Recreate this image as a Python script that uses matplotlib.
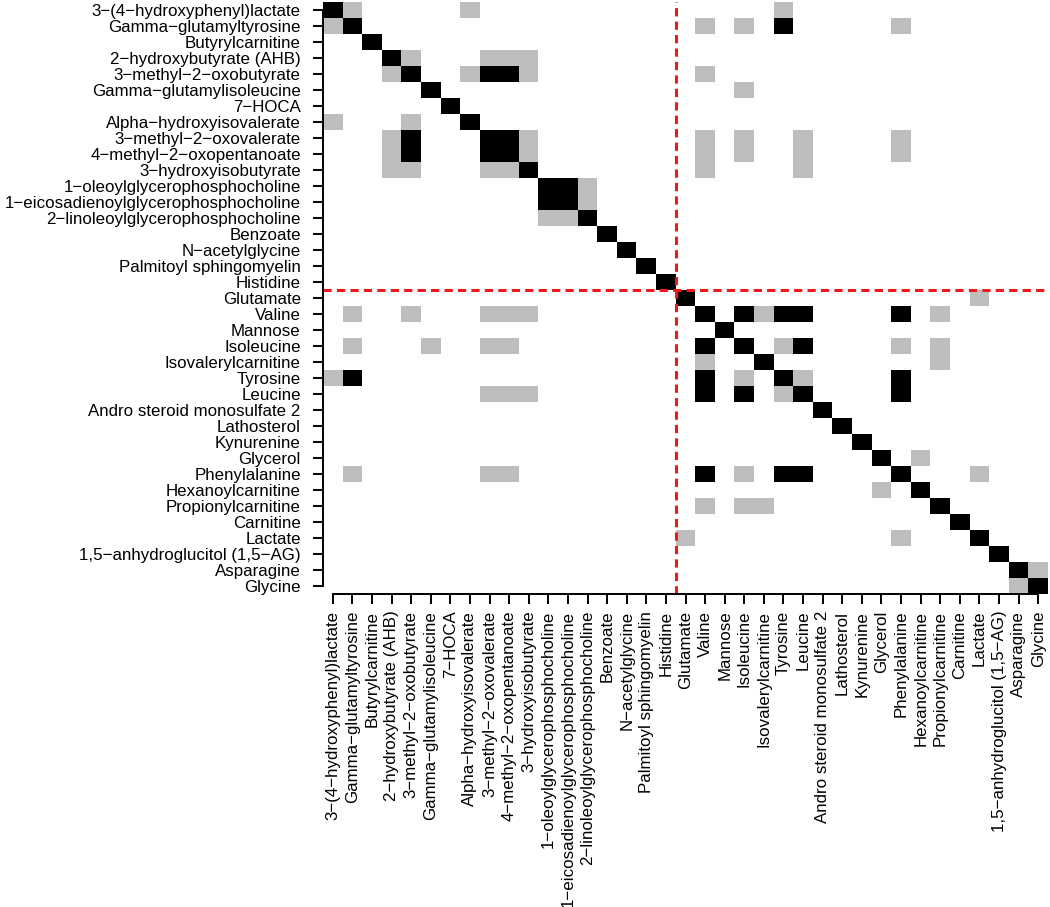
import numpy as np
import matplotlib
matplotlib.use("Agg")
import matplotlib.pyplot as plt
from matplotlib.colors import ListedColormap

plt.rcParams["font.family"] = ["Liberation Sans", "DejaVu Sans"]

# row/column order of the matrix (same on both axes)
metabolites = [
    "3-(4-hydroxyphenyl)lactate",
    "Gamma-glutamyltyrosine",
    "Butyrylcarnitine",
    "2-hydroxybutyrate (AHB)",
    "3-methyl-2-oxobutyrate",
    "Gamma-glutamylisoleucine",
    "7-HOCA",
    "Alpha-hydroxyisovalerate",
    "3-methyl-2-oxovalerate",
    "4-methyl-2-oxopentanoate",
    "3-hydroxyisobutyrate",
    "1-oleoylglycerophosphocholine",
    "1-eicosadienoylglycerophosphocholine",
    "2-linoleoylglycerophosphocholine",
    "Benzoate",
    "N-acetylglycine",
    "Palmitoyl sphingomyelin",
    "Histidine",
    "Glutamate",
    "Valine",
    "Mannose",
    "Isoleucine",
    "Isovalerylcarnitine",
    "Tyrosine",
    "Leucine",
    "Andro steroid monosulfate 2",
    "Lathosterol",
    "Kynurenine",
    "Glycerol",
    "Phenylalanine",
    "Hexanoylcarnitine",
    "Propionylcarnitine",
    "Carnitine",
    "Lactate",
    "1,5-anhydroglucitol (1,5-AG)",
    "Asparagine",
    "Glycine",
]
group_break = 18  # Glutamate starts the second block

# strong links (black), upper triangle indices
strong_pairs = [
    (1, 23), (4, 8), (4, 9), (8, 9), (11, 12),
    (19, 21), (19, 23), (19, 24), (19, 29),
    (21, 24), (23, 29), (24, 29),
]

# weak links (grey), upper triangle indices
weak_pairs = [
    (0, 1), (0, 7), (0, 23),
    (1, 19), (1, 21), (1, 29),
    (3, 4), (3, 8), (3, 9), (3, 10),
    (4, 7), (4, 10), (4, 19),
    (5, 21),
    (8, 10), (9, 10),
    (8, 19), (9, 19), (10, 19),
    (8, 21), (9, 21),
    (8, 24), (9, 24), (10, 24),
    (8, 29), (9, 29),
    (11, 13), (12, 13),
    (18, 33),
    (19, 22), (19, 31),
    (21, 23), (21, 29), (21, 31),
    (22, 31), (23, 24),
    (28, 30), (29, 33),
    (35, 36),
]

n = len(metabolites)
mat = np.zeros((n, n))
for i, j in weak_pairs:
    mat[i, j] = mat[j, i] = 1
for i, j in strong_pairs:
    mat[i, j] = mat[j, i] = 2
np.fill_diagonal(mat, 2)

fig = plt.figure(figsize=(10.5, 9.07), dpi=100)
ax = fig.add_axes([323 / 1050, 1 - 594 / 907, 725 / 1050, 592 / 907])

cmap = ListedColormap(["white", "#bebebe", "black"])
ax.imshow(mat, cmap=cmap, vmin=0, vmax=2, interpolation="nearest", aspect="auto")

labels = [m.replace("-", "\u2212") for m in metabolites]
ticks = np.arange(n)
ax.set_xticks(ticks)
ax.set_xticklabels(labels, rotation=90, fontsize=12.2)
ax.set_yticks(ticks)
ax.set_yticklabels(labels, fontsize=12.2)

for side in ("top", "right"):
    ax.spines[side].set_visible(False)
for side in ("left", "bottom"):
    ax.spines[side].set_linewidth(1.4)
    ax.spines[side].set_bounds(0, n - 1)
ax.tick_params(axis="both", length=7, width=1.4, direction="out")
ax.tick_params(axis="y", pad=9)
ax.tick_params(axis="x", pad=5)

# block separators
dash = (0, (2.7, 1.7))
ax.axvline(group_break - 0.5, color="#ee1a1a", lw=2.2, ls=dash, clip_on=False)
ax.axhline(group_break - 0.5, color="#ee1a1a", lw=2.2, ls=dash, clip_on=False)

fig.savefig("out.png", dpi=100)
